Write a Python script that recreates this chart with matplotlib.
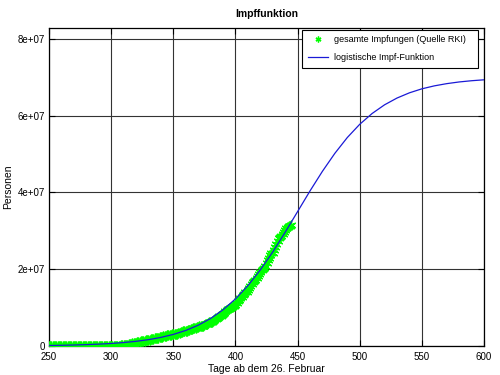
import numpy as np
import matplotlib
matplotlib.use("Agg")
import matplotlib.pyplot as plt
from matplotlib.ticker import FuncFormatter

# Daten: Tage ab dem 26. Februar, gesamte Impfungen (Quelle RKI) in Millionen
tage = np.arange(250, 446)
impfungen_mio = [0.0] * 55 + [
    0.02, 0.05, 0.09, 0.14, 0.19, 0.23, 0.26,
    0.31, 0.37, 0.44, 0.52, 0.60, 0.66, 0.70,
    0.77, 0.86, 0.95, 1.05, 1.14, 1.20, 1.24,
    1.31, 1.39, 1.47, 1.56, 1.64, 1.69, 1.73,
    1.80, 1.88, 1.97, 2.06, 2.14, 2.19, 2.23,
    2.30, 2.39, 2.49, 2.60, 2.70, 2.76, 2.81,
    2.86, 2.93, 3.00, 3.07, 3.15, 3.20, 3.24,
    3.33, 3.44, 3.56, 3.68, 3.80, 3.86, 3.90,
    4.00, 4.12, 4.25, 4.38, 4.51, 4.58, 4.63,
    4.74, 4.86, 4.98, 5.11, 5.24, 5.30, 5.34,
    5.48, 5.63, 5.80, 5.98, 6.17, 6.27, 6.33,
    6.55, 6.80, 7.06, 7.33, 7.60, 7.74, 7.82,
    8.10, 8.40, 8.72, 9.05, 9.38, 9.55, 9.65,
    9.95, 10.15, 10.30, 10.45, 10.75, 11.20, 11.70,
    12.05, 12.45, 12.85, 13.25, 13.65, 13.95, 14.15,
    14.60, 15.10, 15.60, 16.15, 16.70, 17.00, 17.20,
    17.65, 18.15, 18.70, 19.25, 19.80, 20.10, 20.30,
    20.95, 21.65, 22.35, 23.05, 23.75, 24.10, 24.35,
    25.05, 25.80, 26.55, 27.30, 28.05, 28.40, 28.65,
    29.20, 29.80, 30.30, 30.70, 31.00, 31.20, 31.35, 31.50,
]

tage_fit = np.arange(250, 601, 10)
fit_mio = [
    0.14, 0.19, 0.26, 0.36, 0.49, 0.66, 0.90, 1.22, 1.65, 2.24,
    3.02, 4.05, 5.41, 7.17, 9.43, 12.26, 15.71, 19.81, 24.48, 29.62,
    35.00, 40.39, 45.51, 50.19, 54.30, 57.75, 60.57, 62.83, 64.59, 65.95,
    66.99, 67.76, 68.34, 68.78, 69.10, 69.34,
]

plt.rcParams['font.family'] = ['Liberation Sans', 'DejaVu Sans']
plt.rcParams['font.size'] = 7

fig = plt.figure(figsize=(5, 3.75), dpi=100)
ax = fig.add_axes([0.098, 0.0773, 0.87, 0.8487])

ax.plot(tage, np.array(impfungen_mio) * 1e6, linestyle='none',
        marker=(6, 2, 0), markersize=7, markeredgewidth=1.0,
        color='#00ff00', label='gesamte Impfungen (Quelle RKI)', zorder=3)
ax.plot(tage_fit, np.array(fit_mio) * 1e6, color='#1a1ad6', linewidth=0.9,
        label='logistische Impf-Funktion', zorder=4)

ax.set_xlim(250, 600)
ax.set_ylim(0, 8.29e7)
ax.set_xticks(np.arange(250, 601, 50))
ax.set_yticks([0, 2e7, 4e7, 6e7, 8e7])
ax.yaxis.set_major_formatter(FuncFormatter(lambda v, p: '%g' % v))

ax.grid(True, color='#333333', linewidth=0.8, linestyle='-')
ax.set_axisbelow(True)
ax.tick_params(direction='in', top=True, right=True, length=4,
               width=0.8, labelsize=7, pad=3)
ax.tick_params(axis='x', pad=4)
for s in ax.spines.values():
    s.set_linewidth(0.9)

ax.set_title('Impffunktion', fontsize=7.5, fontweight='bold', pad=7.5)
ax.set_xlabel('Tage ab dem 26. Februar', fontsize=7.5, labelpad=2)
ax.set_ylabel('Personen', fontsize=7.5, labelpad=3)

leg = ax.legend(loc='upper left', bbox_to_anchor=(0.582, 0.877, 0.404, 0.116),
                mode='expand', borderaxespad=0, fontsize=6.5, numpoints=1,
                handlelength=2.3, handletextpad=0.6, labelspacing=1.0,
                borderpad=0.6, fancybox=False, framealpha=1,
                edgecolor='black', markerscale=0.6)
leg.get_frame().set_linewidth(0.8)

fig.savefig('out.png', dpi=100)
